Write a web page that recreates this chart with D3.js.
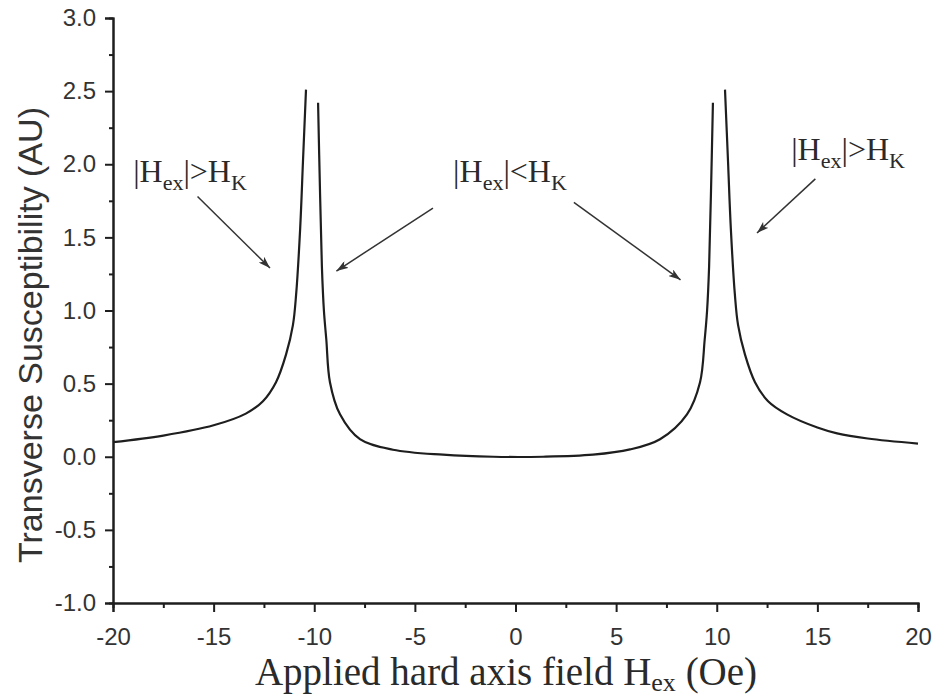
<!DOCTYPE html>
<html>
<head>
<meta charset="utf-8">
<script src="https://cdn.jsdelivr.net/npm/d3@7"></script>
<style>
  body { margin: 0; background: #fff; }
  svg { display: block; }
</style>
</head>
<body>
<svg class="chart" width="938" height="699"></svg>
<script>
// curve, one array per branch (x in Oe, y in AU)
var outerLeftX = [-20, -17.5, -15, -13.4, -12.55, -11.9, -11.4, -11.06, -10.9, -10.7, -10.56, -10.41];
var outerLeftY = [0.10, 0.145, 0.215, 0.295, 0.38, 0.51, 0.70, 0.90, 1.11, 1.56, 2.02, 2.51];

var innerX = [-9.81, -9.71, -9.62, -9.52, -9.40, -9.22, -8.72, -7.73, -6.09, -3.6, -1.1, 1.37, 3.85, 5.69, 7.18, 8.52, 9.17, 9.40, 9.52, 9.62, 9.71, 9.81];
var innerY = [2.42, 1.79, 1.3, 1.0, 0.80, 0.51, 0.29, 0.12, 0.048, 0.014, 0.0, 0.0, 0.014, 0.05, 0.12, 0.29, 0.51, 0.80, 1.0, 1.3, 1.79, 2.42];

var outerRightX = [10.41, 10.56, 10.7, 10.9, 11.06, 11.4, 11.9, 12.55, 13.49, 15, 15.98, 17.5, 20];
var outerRightY = [2.51, 2.02, 1.56, 1.11, 0.90, 0.70, 0.51, 0.38, 0.29, 0.2, 0.16, 0.125, 0.09];

var xTicks = [-20, -15, -10, -5, 0, 5, 10, 15, 20];
var yTicks = [-1.0, -0.5, 0.0, 0.5, 1.0, 1.5, 2.0, 2.5, 3.0];

// annotations: comparison sign, label position and arrow (data units)
var notes = [
  { op: ">", tx: -19, ty: 1.88, ax: [-15.8, 1.78, -12.2, 1.29] },
  { op: "<", tx: -3.1, ty: 1.88, ax: [-4.1, 1.70, -8.9, 1.27] },
  { op: ">", tx: 13.7, ty: 2.03, ax: [14.9, 1.90, 12.0, 1.53] }
];
var extraArrow = [2.9, 1.74, 8.2, 1.21];

var svg = d3.select(".chart"),
    margin = { left: 113, top: 18 };

var g = svg.append("g").attr("transform", "translate(" + margin.left + "," + margin.top + ")");

var x = d3.scaleLinear().domain([-20, 20]).range([0, 805]);
var y = d3.scaleLinear().domain([-1, 3]).range([585, 0]);

var ink = "#1e1e1e", textInk = "#333";

// axes: major ticks with labels, minor ticks without
var xAxis = d3.axisBottom(x).tickValues(xTicks).tickSize(9).tickPadding(16).tickFormat(d3.format("d"));
var yAxis = d3.axisLeft(y).tickValues(yTicks).tickSize(8).tickPadding(9).tickFormat(d3.format(".1f"));
var xMinor = d3.axisBottom(x).tickValues(d3.range(-17.5, 20, 5)).tickSize(5).tickFormat("");
var yMinor = d3.axisLeft(y).tickValues(d3.range(-0.75, 3, 0.5)).tickSize(4).tickFormat("");

function styleAxis(sel) {
  sel.select(".domain").attr("stroke", ink).attr("stroke-width", 2);
  sel.selectAll(".tick line").attr("stroke", ink).attr("stroke-width", 2);
  sel.selectAll(".tick text")
    .attr("fill", textInk)
    .style("font-family", "'Liberation Sans', Arial, sans-serif")
    .style("font-size", "24px");
}

g.append("g").attr("transform", "translate(0," + y(-1) + ")").call(xMinor).call(styleAxis);
g.append("g").call(yMinor).call(styleAxis);
g.append("g").attr("transform", "translate(0," + y(-1) + ")").call(xAxis).call(styleAxis);
g.append("g").call(yAxis).call(styleAxis);
g.selectAll(".tick text").text(function(d) {
  return this.textContent.replace("\u2212", "-");
});

// curve
var line = d3.line()
    .x(function(d) { return x(d[0]); })
    .y(function(d) { return y(d[1]); })
    .curve(d3.curveCatmullRom.alpha(0.5));

var branches = [
  d3.zip(outerLeftX, outerLeftY),
  d3.zip(innerX, innerY),
  d3.zip(outerRightX, outerRightY)
];

g.selectAll(".branch")
  .data(branches)
  .enter().append("path")
    .attr("class", "branch")
    .attr("d", line)
    .attr("fill", "none")
    .attr("stroke", ink)
    .attr("stroke-width", 2.2);

// arrows
svg.append("defs").append("marker")
    .attr("id", "head")
    .attr("viewBox", "0 0 12 8")
    .attr("refX", 12).attr("refY", 4)
    .attr("markerWidth", 12).attr("markerHeight", 8)
    .attr("markerUnits", "userSpaceOnUse")
    .attr("orient", "auto")
  .append("path")
    .attr("d", "M0,0L12,4L0,8L3,4Z")
    .attr("fill", "#333");

var arrows = notes.map(function(n) { return n.ax; }).concat([extraArrow]);

g.selectAll(".arrow")
  .data(arrows)
  .enter().append("line")
    .attr("class", "arrow")
    .attr("x1", function(d) { return x(d[0]); })
    .attr("y1", function(d) { return y(d[1]); })
    .attr("x2", function(d) { return x(d[2]); })
    .attr("y2", function(d) { return y(d[3]); })
    .attr("stroke", "#333")
    .attr("stroke-width", 1.5)
    .attr("marker-end", "url(#head)");

// annotation labels |Hex|>HK
var serif = "'Liberation Serif', 'Times New Roman', serif";
var lab = g.selectAll(".note")
  .data(notes)
  .enter().append("text")
    .attr("class", "note")
    .attr("x", function(d) { return x(d.tx); })
    .attr("y", function(d) { return y(d.ty); })
    .attr("fill", "#2a2a2a")
    .style("font-family", serif)
    .style("font-size", "32px");

lab.append("tspan").text("|H");
lab.append("tspan").attr("dy", 8).style("font-size", "22px").text("ex");
lab.append("tspan").attr("dy", -8).text(function(d) { return "|" + d.op + "H"; });
lab.append("tspan").attr("dy", 8).style("font-size", "22px").text("K");

// axis titles
var xt = svg.append("text")
    .attr("x", 506)
    .attr("y", 685)
    .attr("text-anchor", "middle")
    .attr("fill", "#2a2a2a")
    .style("font-family", serif)
    .style("font-size", "39px");
xt.append("tspan").text("Applied hard axis field H");
xt.append("tspan").attr("dy", 6).style("font-size", "26px").text("ex");
xt.append("tspan").attr("dy", -6).text(" (Oe)");

svg.append("text")
    .attr("transform", "translate(42,335) rotate(-90)")
    .attr("text-anchor", "middle")
    .attr("fill", textInk)
    .style("font-family", "'Liberation Sans', Arial, sans-serif")
    .style("font-size", "34px")
    .text("Transverse Susceptibility (AU)");
</script>
</body>
</html>
